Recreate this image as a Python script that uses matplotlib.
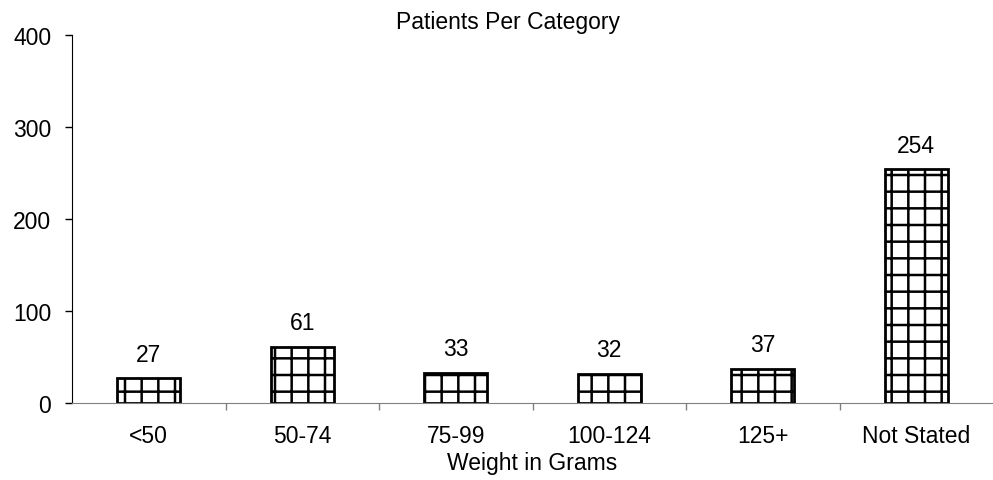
import numpy as np
import matplotlib as mpl
mpl.use("Agg")
import matplotlib.pyplot as plt

plt.rcParams["font.family"] = ["Liberation Sans", "DejaVu Sans"]
plt.rcParams["hatch.linewidth"] = 1.8

categories = ["<50", "50-74", "75-99", "100-124", "125+", "Not Stated"]
patients = [27, 61, 33, 32, 37, 254]

FS = 16.5

fig = plt.figure(figsize=(9.93, 4.81), dpi=100)
ax = fig.add_axes([72 / 993, 77 / 481, 921 / 993, 368 / 481])

x = np.arange(len(categories))
bars = ax.bar(x, patients, width=0.41, color="white", edgecolor="black",
              linewidth=2.0, hatch="+")
for xi, v in zip(x, patients):
    ax.annotate(str(v), (xi, v), xytext=(0, 9), textcoords="offset points",
                ha="center", va="bottom", fontsize=FS)

ax.set_xlim(-0.5, len(categories) - 0.5)
ax.set_ylim(0, 400)
ax.set_yticks([0, 100, 200, 300, 400])
ax.tick_params(axis="y", labelsize=FS, length=5, direction="out", width=1, pad=10)

ax.set_xticks(x[:-1] + 0.5)
ax.set_xticklabels([])
ax.set_xticks(x, minor=True)
ax.set_xticklabels(categories, minor=True, fontsize=FS)
ax.tick_params(axis="x", which="major", length=5, color="#808080", width=1)
ax.tick_params(axis="x", which="minor", length=0, pad=15)

for s in ["top", "right"]:
    ax.spines[s].set_visible(False)
ax.spines["bottom"].set_color("#808080")
ax.spines["left"].set_color("black")

ax.set_xlabel("Weight in Grams", fontsize=FS, labelpad=3)
fig.text(508 / 993, 1 - 22 / 481, "Patients Per Category", ha="center", va="center", fontsize=FS)

fig.savefig("out.png", dpi=100, facecolor="white")
